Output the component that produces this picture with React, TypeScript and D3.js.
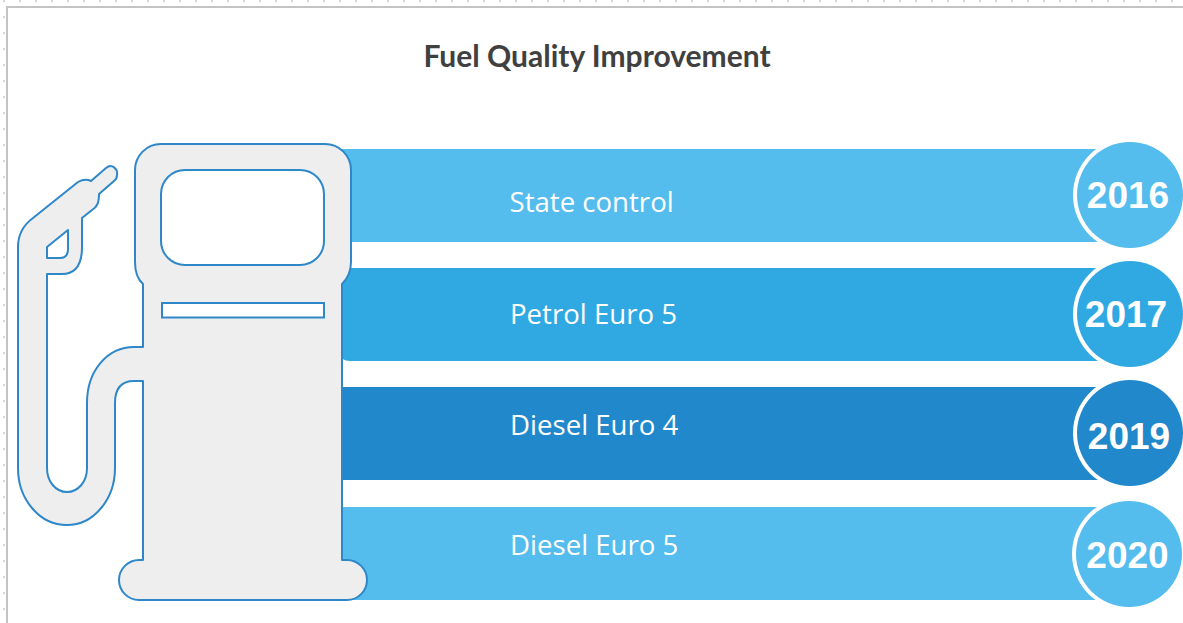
import React from "react";
import * as d3 from "d3";

const title = "Fuel Quality Improvement";
const years = ["2016", "2017", "2019", "2020"];
const labels = ["State control", "Petrol Euro 5", "Diesel Euro 4", "Diesel Euro 5"];
const colors = ["#55BCEE", "#30A8E2", "#2188CC", "#55BCEE"];

const W = 1183, H = 623;
const OUTLINE = "#2E87C8";
const LABEL_BASE = [212, 324, 435, 555];
const LABEL_X = [509.5, 510, 510, 510];
const YEAR_BASE = [208, 327, 449, 568];
const YEAR_X = [1128, 1126, 1129, 1127.5];
const CIRCLE_Y = [195, 314, 433, 554];
const CIRCLE_X = [1130, 1130, 1130, 1129];

const y = d3.scaleBand<string>().domain(years).range([149, 600]).paddingInner(0.2207).paddingOuter(0);
const tickX = d3.range(3, W, 16);
const tickY = d3.range(16, H, 16);

const pump =
  "M161 144 H325 A26 26 0 0 1 351 170 V262 Q351 275 342 284 V560 H347 A20 20 0 0 1 347 600 H139 A20 20 0 0 1 139 560 H143 V381 H134 " +
  "Q115 381 115 403 V468 C115 500 93 525 67 525 C40 525 18 500 18 468 V247 Q18 229 33 218 L78 182 Q85 178 91 181 L106 168 " +
  "C112 163 118 169 117 175 Q117 179 114 181 L99 194 C99 203 97 207 92 210 L82 218 V247 Q82 274 62 274 H47 V468 " +
  "C47 482 56 492 67 492 C78 492 87 482 87 468 V403 C87 370 108 347 134 347 H143 V284 Q135 277 135 262 V170 A26 26 0 0 1 161 144 Z";
const nozzleHole = "M68 230 L47 247 V258 H60 Q68 258 68 249 Z";

export default function App() {
  const bw = y.bandwidth();
  return (
    <svg width={W} height={H} style={{ position: "absolute", left: 0, top: 0, background: "#fff" }}>
      <g fill="#D6D6D6">
        {tickX.map((x) => <rect key={x} x={x} y={0} width={2} height={2} />)}
        {tickY.map((t) => <rect key={t} x={3} y={t} width={2} height={2} />)}
      </g>
      <rect x={6} y={6} width={W} height={2} fill="#C4C4C4" />
      <rect x={6} y={6} width={2} height={H} fill="#C4C4C4" />

      <text x={597} y={67} textAnchor="middle" fontFamily="Lato" fontWeight={700} fontSize={30} fill="#404040">{title}</text>

      {years.map((yr, i) => {
        const top = Math.floor(y(yr)!);
        const x0 = 340, x1 = 1110, r = 10;
        const d = d3.path();
        d.moveTo(x0, top);
        d.lineTo(x1, top);
        d.lineTo(x1, top + bw);
        if (i === 1) {
          d.lineTo(x0 + r, top + bw);
          d.quadraticCurveTo(x0, top + bw, x0, top + bw - r);
        } else d.lineTo(x0, top + bw);
        d.closePath();
        return <path key={yr} d={d.toString()} fill={colors[i]} />;
      })}
      {years.map((yr, i) => (
        <text key={yr} x={LABEL_X[i]} y={LABEL_BASE[i]} fontFamily="Open Sans" fontSize={27.6} fill="#fff">{labels[i]}</text>
      ))}
      {years.map((yr, i) => (
        <g key={yr}>
          <circle cx={CIRCLE_X[i]} cy={CIRCLE_Y[i]} r={57} fill="#fff" />
          <circle cx={CIRCLE_X[i]} cy={CIRCLE_Y[i]} r={53} fill={colors[i]} />
          <text x={YEAR_X[i]} y={YEAR_BASE[i]} textAnchor="middle" fontFamily="Liberation Sans" fontWeight={700} fontSize={37} fill="#fff">{yr}</text>
        </g>
      ))}

      <path d={pump} fill="#EEEEEE" stroke={OUTLINE} strokeWidth={2} strokeLinejoin="round" />
      <path d={nozzleHole} fill="#fff" stroke={OUTLINE} strokeWidth={2} strokeLinejoin="round" />
      <rect x={161} y={170} width={163} height={95} rx={24} fill="#fff" stroke={OUTLINE} strokeWidth={2} />
      <rect x={162} y={303} width={162} height={14.5} fill="#fff" stroke={OUTLINE} strokeWidth={2} />
    </svg>
  );
}
